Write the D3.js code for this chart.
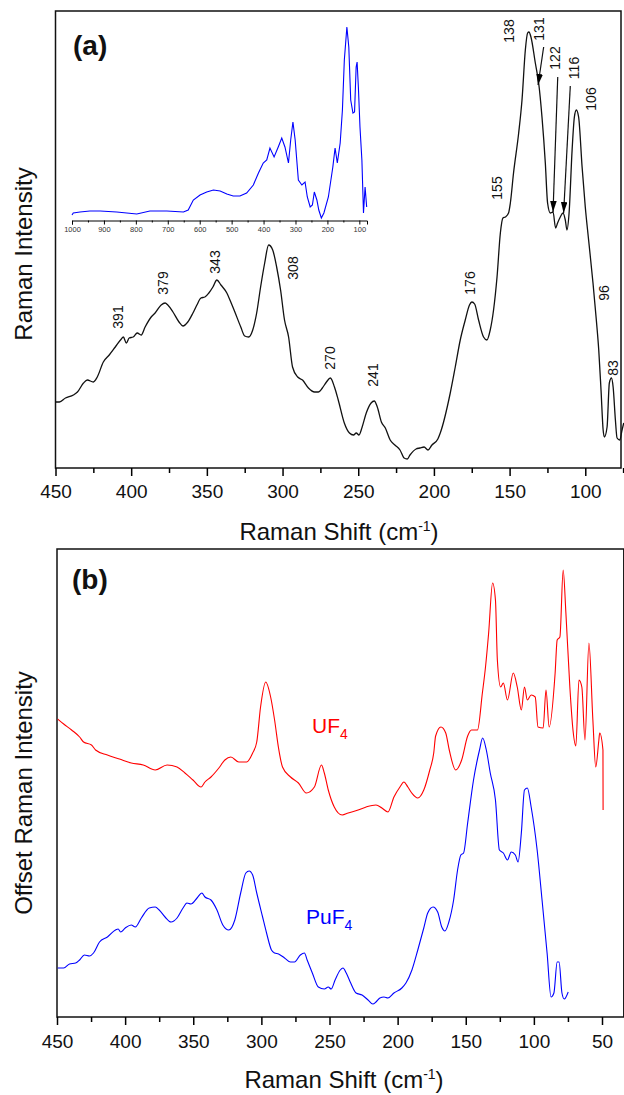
<!DOCTYPE html>
<html>
<head>
<meta charset="utf-8">
<script src="https://cdn.jsdelivr.net/npm/d3@7"></script>
<style>
  body { margin: 0; background: #fff; }
  text { font-family: "Liberation Sans", Arial, sans-serif; }
</style>
</head>
<body>
<div id="plot"></div>
<script>
// ---- data (Raman shift in cm-1, intensity in arbitrary units) ----

// panel (a): PuF4 spectrum
const puf4Main = [
  [450,66],[447.4,66],[443.4,70],[438.2,73],[435.5,76],[431.5,85],[429,88],[425,86],[422.4,91],
  [418.4,106],[414.5,113],[410.5,121],[406.5,129],[405.2,131],[403.2,125],[401.3,130],[398.7,131],
  [396,135],[393.4,133],[390.8,141],[386.8,151],[384.2,155],[380.2,163],[377.6,165],[375.8,163],
  [372.4,156],[368.4,146],[365.8,142],[362.6,146],[359.2,155],[356.6,163],[353.9,170],[351.3,171],
  [348.7,175],[346,181],[343.4,188],[340.7,183],[336.8,175],[334.2,166],[331.5,156],[327.6,141],
  [325,132],[322.4,131],[319.7,138],[317.1,155],[314.5,181],[311.8,205],[309.2,223],[306.5,218],
  [303.9,201],[301.3,178],[298.7,148],[296,131],[293.4,101],[290,91],[286.8,88],[282.9,80],
  [278.9,76],[276.3,76],[273.7,80],[271,86],[268.4,90],[265.7,81],[263.2,68],[259.2,45],
  [255.8,35],[253.1,33],[251.3,35],[249.5,33],[247.4,41],[244.7,55],[241.5,65],[239.4,67],
  [237.4,61],[234.7,46],[232.1,40],[228.9,28],[225.8,23],[222.4,18],[219.7,10],[217.6,9],
  [215.8,13],[211.8,19],[209.2,20],[206.5,21],[203.9,18],[201.3,23],[197.4,29],[195.8,35],
  [189.2,75],[185.9,101],[182.6,128],[179.3,148],[176.5,163],[174.9,166],[173.1,164],[170.5,148],
  [167.2,131],[165,128],[162.8,138],[160.6,158],[158.3,191],[156.1,235],[154.4,250],[152.8,251],
  [150.7,255],[149.5,265],[147.4,295],[144,335],[141.8,368],[139.6,418],[138.1,435],[137.2,436],
  [135.9,431],[133,405],[130.8,385],[128.6,351],[126.4,305],[124.9,265],[123.1,255],[121.3,256],
  [119.6,240],[118.3,245],[116.5,251],[114.7,255],[113.2,248],[112.1,238],[110.7,255],[108.7,318],
  [107.2,351],[105.9,358],[104.4,351],[102.1,301],[100,261],[97.8,228],[94.9,185],[92.7,148],
  [91.1,118],[89.6,78],[88.2,38],[87.4,31],[85.6,41],[84.1,85],[82.7,90],[81.6,81],[80.1,48],
  [79,30],[77.2,28],[75.7,38],[74.6,45]
];

// inset: full-range PuF4 spectrum
const puf4Inset = [
  [1000,0],[996,2],[975,3],[944,4],[912,4],[860,3],[797,1],[756,4],[703,4],[651,3],[636,5],
  [620,15],[599,20],[578,23],[557,25],[536,24],[515,21],[495,19],[474,19],[453,22],[432,30],
  [416,42],[401,52],[390,55],[380,67],[367,58],[354,68],[343,77],[333,68],[322,52],[315,75],
  [308,93],[301,75],[291,35],[280,30],[270,33],[263,18],[254,8],[247,10],[241,23],[233,15],
  [227,5],[219,-3],[211,2],[197,18],[183,48],[176,67],[169,52],[160,72],[153,105],[147,155],
  [139,188],[133,168],[127,115],[120,102],[115,103],[110,148],[107,153],[103,128],[98,88],
  [92,55],[87,2],[82,28],[77,8]
];

// panel (b): UF4 (offset) and PuF4
const uf4 = [
  [449.5,298],[445.1,293],[439.3,287],[433.4,280],[430.5,275],[424.7,272],[421.7,267],[413,262],
  [404.2,258],[395.5,254],[386.7,252],[377.9,247],[369.2,252],[361.9,250],[356.1,244],[350.2,237],
  [344.3,230],[341.4,235],[337,240],[331.2,249],[326.8,257],[322.4,260],[316.6,255],[310.8,255],
  [306.4,264],[303.4,275],[300.6,310],[296.8,335],[293.2,320],[290.3,297],[287.4,269],[284.5,250],
  [278.6,240],[272.8,234],[267,224],[261.1,230],[255.9,252],[253.8,244],[250.9,227],[246.5,210],
  [240.7,202],[236.3,204],[229,207],[223.1,210],[215.9,212],[211.5,209],[207.1,205],[202.7,220],
  [198.3,230],[195.4,235],[192.5,230],[189.6,224],[185.2,219],[180.8,227],[176.4,247],[173.5,264],
  [172.1,281],[168.2,290],[164.7,284],[162.1,267],[157.4,247],[153,257],[148.6,281],[145.8,287],
  [141.4,287],[137.8,324],[135.5,350],[133.2,384],[130.3,434],[128.2,417],[126.8,357],[124.4,330],
  [122.4,334],[119.4,317],[115.1,344],[112.2,330],[109.2,307],[106.9,330],[104.8,317],[102,322],
  [99,320],[97,290],[93.2,289],[91.1,327],[88.8,290],[84.4,344],[82.9,377],[80.9,380],[78.5,447],
  [76.5,404],[73.6,330],[71.3,287],[69.2,271],[66.9,337],[64.8,330],[62.5,277],[59.6,374],
  [56.7,297],[54.6,250],[52.3,277],[51.7,284],[49.3,267],[49.2,207]
];

const puf4 = [
  [449.5,49],[445.1,49],[440.8,53],[436.3,54],[433.4,57],[429.9,62],[426.1,61],[423.2,64],
  [418.8,75],[413,80],[407.1,87],[405.1,88],[403.3,85],[399.9,89],[395.5,92],[392.5,90],
  [388.1,99],[382.3,109],[377.9,110],[375,107],[370.7,100],[366.3,95],[361.9,99],[357.5,109],
  [354.6,114],[351.7,113],[347.2,119],[343.7,124],[341.4,120],[337,117],[332.6,107],[328.3,92],
  [323.9,87],[319.5,97],[315.2,124],[311.4,144],[309,146],[306.4,142],[303.4,124],[299.1,100],
  [296.2,84],[292.6,67],[290.3,64],[287.4,63],[283,59],[278.6,55],[275.7,55],[271.4,62],
  [268.4,64],[266.4,57],[262.6,44],[258.2,30],[253.8,28],[250.9,30],[248.8,28],[245.9,37],
  [242.1,47],[240.1,49],[237.7,44],[234.8,35],[230.5,24],[226.1,22],[221.7,17],[218.2,13],
  [215.9,15],[213,19],[210,20],[207.1,19],[202.7,24],[196.9,29],[193.9,34],[189.5,47],
  [185.2,67],[180.8,89],[177.9,104],[174,110],[170.6,105],[167.6,90],[165.3,86],[162.4,95],
  [158.9,117],[156,147],[153.6,162],[151.6,164],[148.6,194],[144.3,237],[139.9,267],[137.6,279],
  [134.9,267],[132,244],[128.2,217],[125.3,167],[122.4,164],[119.4,157],[116.6,165],[113.6,162],
  [111.6,155],[109.2,184],[106.9,227],[104.8,229],[102,210],[97.6,167],[94,117],[90.3,64],
  [87.4,20],[85.3,24],[82.9,55],[81.5,55],[79.4,24],[77.7,18],[74.8,25]
];

// tick values
const ticksA = [450, 400, 350, 300, 250, 200, 150, 100];
const minorA = [425, 375, 325, 275, 225, 175, 125, 75];
const ticksB = [450, 400, 350, 300, 250, 200, 150, 100, 50];
const minorB = [425, 375, 325, 275, 225, 175, 125, 75];
const ticksInset = [1000, 900, 800, 700, 600, 500, 400, 300, 200, 100];
const minorInset = [950, 850, 750, 650, 550, 450, 350, 250, 150];

// peak assignments in (a): label text and where it sits (shift, intensity)
const peakText = ["391","379","343","308","270","241","176","155","138","131","122","116","106","96","83"];
const peakAt = [[408.4,151],[378.9,185],[344.7,206],[293.4,200],[268.9,110],[240,93],[176.3,185],
  [158,280],[150.7,437],[130.4,439],[119.8,410],[107.7,400],[96.2,369],[87.8,175],[81.6,100]];
// arrows from label to shoulder: [fromShift, fromInt, toShift, toInt]
const arrows = [[127.5,421,131.2,383],[118.2,391,121.3,256],[109.9,382,114.3,255]];

// ---- drawing ----
const width = 624;
const height = 1095;

const svg = d3.select("div#plot")
  .append("svg")
    .attr("width", width)
    .attr("height", height);

svg.append("rect")
    .attr("width", width)
    .attr("height", height)
    .attr("fill", "white");

svg.append("defs").append("marker")
    .attr("id", "head")
    .attr("viewBox", "0 0 10 6")
    .attr("refX", 10).attr("refY", 3)
    .attr("markerUnits", "userSpaceOnUse")
    .attr("markerWidth", 11).attr("markerHeight", 6.6)
    .attr("orient", "auto")
  .append("path")
    .attr("d", "M0,0 L10,3 L0,6 Z")
    .attr("fill", "black");

function bottomAxis(scale, y, majors, minors, opts) {
  const g = svg.append("g").attr("transform", `translate(0, ${y})`);
  g.append("g")
      .call(d3.axisBottom(scale).tickValues(majors).tickSize(opts.major).tickPadding(opts.pad).tickFormat(d3.format("d")))
      .call(a => a.select(".domain").remove())
      .call(a => a.selectAll("line").attr("stroke-width", opts.sw))
      .call(a => a.selectAll("text").attr("font-size", opts.font).attr("fill", "#111"));
  g.append("g")
      .call(d3.axisBottom(scale).tickValues(minors).tickSize(opts.minor).tickFormat(""))
      .call(a => a.select(".domain").remove())
      .call(a => a.selectAll("line").attr("stroke-width", opts.sw));
  return g;
}

function xTitle(x, y) {
  const t = svg.append("text")
      .attr("x", x).attr("y", y)
      .attr("text-anchor", "middle")
      .attr("font-size", 24)
      .attr("fill", "#111")
      .text("Raman Shift (cm");
  t.append("tspan").attr("dy", -9).attr("font-size", 14).text("-1");
  t.append("tspan").attr("dy", 9).text(")");
}

function yTitle(x, y, label) {
  svg.append("text")
      .attr("transform", `translate(${x}, ${y}) rotate(-90)`)
      .attr("text-anchor", "middle")
      .attr("font-size", 24)
      .attr("fill", "#111")
      .text(label);
}

// ===== panel (a) =====
const xA = d3.scaleLinear().domain([450, 76.4]).range([55.5, 621]);
const yA = d3.scaleLinear().domain([0, 457]).range([468, 11]);

svg.append("rect")
    .attr("x", xA.range()[0]).attr("y", yA.range()[1])
    .attr("width", xA.range()[1] - xA.range()[0])
    .attr("height", yA.range()[0] - yA.range()[1])
    .attr("fill", "none").attr("stroke", "#111").attr("stroke-width", 1.5);

bottomAxis(xA, 468, ticksA, minorA, {major: 8, minor: 5, pad: 9, font: 19, sw: 1.5});

const lineA = d3.line().x(d => xA(d[0])).y(d => yA(d[1])).curve(d3.curveMonotoneX);
svg.append("path")
    .datum(puf4Main)
    .attr("d", lineA)
    .attr("fill", "none")
    .attr("stroke", "#111")
    .attr("stroke-width", 1.3);

// inset
const xIn = d3.scaleLinear().domain([1000, 76]).range([72, 367]);
const yIn = d3.scaleLinear().domain([0, 188]).range([215, 27]);

const inAxis = svg.append("g").attr("transform", "translate(0, 220.5)");
inAxis.append("g")
    .call(d3.axisBottom(xIn).tickValues(ticksInset).tickSize(4).tickPadding(2).tickFormat(d3.format("d")))
    .call(a => a.select(".domain").attr("stroke-width", 1))
    .call(a => a.selectAll("text").attr("font-size", 7.5).attr("fill", "#333"));
inAxis.append("g")
    .call(d3.axisBottom(xIn).tickValues(minorInset).tickSize(2).tickFormat(""))
    .call(a => a.select(".domain").remove());

svg.append("path")
    .datum(puf4Inset)
    .attr("d", d3.line().x(d => xIn(d[0])).y(d => yIn(d[1])))
    .attr("fill", "none")
    .attr("stroke", "#0000ff")
    .attr("stroke-width", 1.1);

// peak labels
svg.append("g").selectAll("text")
  .data(peakText)
  .join("text")
    .attr("transform", (d, i) => `translate(${xA(peakAt[i][0])}, ${yA(peakAt[i][1])}) rotate(-90)`)
    .attr("text-anchor", "middle")
    .attr("dominant-baseline", "central")
    .attr("font-size", 14)
    .attr("fill", "#111")
    .text(d => d);

svg.append("g").selectAll("line")
  .data(arrows)
  .join("line")
    .attr("x1", d => xA(d[0])).attr("y1", d => yA(d[1]))
    .attr("x2", d => xA(d[2])).attr("y2", d => yA(d[3]))
    .attr("stroke", "#111")
    .attr("stroke-width", 1.2)
    .attr("marker-end", "url(#head)");

svg.append("text")
    .attr("x", 73).attr("y", 55)
    .attr("font-size", 28).attr("font-weight", "bold")
    .attr("fill", "#111")
    .text("(a)");

xTitle(339, 540);
yTitle(32, 254, "Raman Intensity");

// ===== panel (b) =====
const xB = d3.scaleLinear().domain([450, 34]).range([57, 623.8]);
const yB = d3.scaleLinear().domain([0, 468]).range([1017, 549]);

svg.append("rect")
    .attr("x", xB.range()[0]).attr("y", yB.range()[1])
    .attr("width", xB.range()[1] - xB.range()[0])
    .attr("height", yB.range()[0] - yB.range()[1])
    .attr("fill", "none").attr("stroke", "#111").attr("stroke-width", 1.5);

bottomAxis(xB, 1017, ticksB, minorB, {major: 8, minor: 5, pad: 10, font: 19, sw: 1.5});

const lineB = d3.line().x(d => xB(d[0])).y(d => yB(d[1])).curve(d3.curveMonotoneX);
svg.append("path")
    .datum(uf4)
    .attr("d", lineB)
    .attr("fill", "none")
    .attr("stroke", "#ff0000")
    .attr("stroke-width", 1.1);

svg.append("path")
    .datum(puf4)
    .attr("d", lineB)
    .attr("fill", "none")
    .attr("stroke", "#0000ff")
    .attr("stroke-width", 1.1);

function seriesLabel(shift, inten, name, color) {
  const t = svg.append("text")
      .attr("x", xB(shift)).attr("y", yB(inten))
      .attr("font-size", 21)
      .attr("fill", color)
      .text(name);
  t.append("tspan").attr("dy", 6).attr("font-size", 14).text("4");
}
seriesLabel(262.8, 284, "UF", "#ff0000");
seriesLabel(267.2, 93, "PuF", "#0000ff");

svg.append("text")
    .attr("x", 72).attr("y", 589)
    .attr("font-size", 28).attr("font-weight", "bold")
    .attr("fill", "#111")
    .text("(b)");

xTitle(344, 1088);
yTitle(32, 793, "Offset Raman Intensity");
</script>
</body>
</html>
